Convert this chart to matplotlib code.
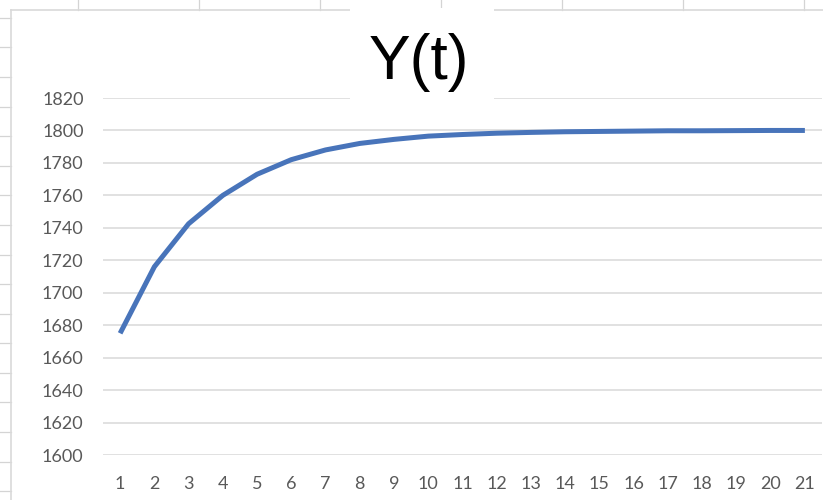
import matplotlib
matplotlib.use("Agg")
import matplotlib.pyplot as plt
from matplotlib.lines import Line2D
from matplotlib.patches import Rectangle

t = list(range(1, 22))
y_values = [1675, 1716, 1742.5, 1760, 1773, 1782, 1788, 1792, 1794.5, 1796.5,
            1797.5, 1798.3, 1798.8, 1799.2, 1799.4, 1799.6, 1799.8, 1799.8,
            1799.9, 1800, 1800]
y_ticks = [1600, 1620, 1640, 1660, 1680, 1700, 1720, 1740, 1760, 1780, 1800, 1820]
title = "Y(t)"

W, H = 823, 500
fig = plt.figure(figsize=(W / 100, H / 100), dpi=100)

def fx(px):
    return px / W

def fy(py):
    return 1 - py / H

# spreadsheet background lines
sheet_col = "#D4D4D4"
for ry in [17.5, 47, 77, 106.5, 136, 166, 195, 225, 254.5, 284, 314, 343,
           373, 402, 432, 462, 491]:
    fig.add_artist(Line2D([fx(0), fx(11)], [fy(ry), fy(ry)], color=sheet_col, lw=0.9))
for cx in [78, 199, 320, 441, 562, 683, 804]:
    fig.add_artist(Line2D([fx(cx), fx(cx)], [fy(0), fy(10)], color=sheet_col, lw=0.9))
# chart border
fig.add_artist(Line2D([fx(11), fx(11)], [fy(10), fy(500)], color="#D9D9D9", lw=1.2))
fig.add_artist(Line2D([fx(11), fx(823)], [fy(10), fy(10)], color="#D9D9D9", lw=1.2))

ax = fig.add_axes([fx(103), fy(455), fx(822) - fx(103), fy(98) - fy(455)])
ax.plot(t, y_values, color="#4874BA", lw=3.6, solid_capstyle="butt",
        solid_joinstyle="round", clip_on=False, zorder=3)
ax.set_xlim(0.5, 21.5)
ax.set_ylim(1600, 1820)
ax.set_yticks(y_ticks)
ax.set_xticks(t)
ax.set_xticklabels([str(v) for v in t])
ax.yaxis.grid(True, color="#D9D9D9", lw=1.1)
ax.set_axisbelow(True)
for s in ax.spines.values():
    s.set_visible(False)
ax.tick_params(axis="both", length=0, labelsize=13, labelcolor="#595959")
ax.tick_params(axis="y", pad=14)
ax.tick_params(axis="x", pad=15)
for lab in ax.get_xticklabels() + ax.get_yticklabels():
    lab.set_fontfamily("Lato")

# title box and title
fig.add_artist(Rectangle((fx(350), fy(99)), fx(494) - fx(350), fy(8) - fy(99),
                         facecolor="white", edgecolor="none", zorder=5))
fig.text(fx(419), fy(62), title, ha="center", va="center", fontsize=45,
         fontfamily="Liberation Sans", color="black", zorder=6)

fig.savefig("out.png", dpi=100, facecolor="white")
